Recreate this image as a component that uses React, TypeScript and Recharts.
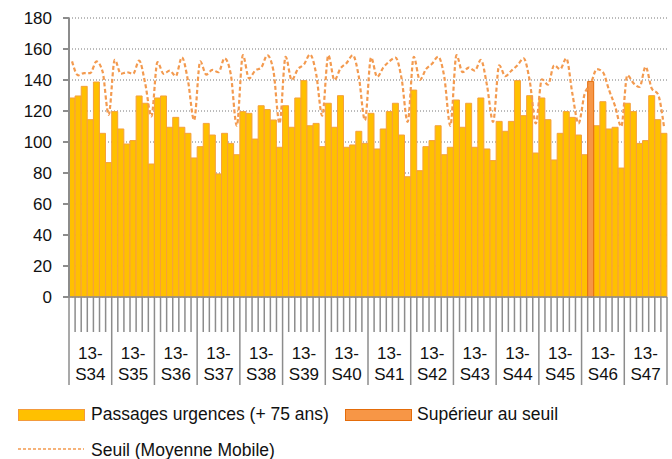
import React from 'react';
import { ComposedChart, Bar, Line, XAxis, YAxis, CartesianGrid, Legend } from 'recharts';

const weeks = ['13-S34', '13-S35', '13-S36', '13-S37', '13-S38', '13-S39', '13-S40', '13-S41', '13-S42', '13-S43', '13-S44', '13-S45', '13-S46', '13-S47'];

const passages = [
  128.4, 129.7, 135.9, 114.4, 138.7, 105.6, 86.7,
  119.6, 108.4, 98.7, 100.9, 129.7, 125, 85.8,
  128.4, 129.7, 109.5, 115.9, 109.5, 105.6, 89.7,
  97, 112, 104.5, 79.4, 105.6, 99.1, 91.8,
  119.6, 118.5, 101.9, 123.4, 120.9, 114.2, 96.6,
  123.4, 109.5, 128.4, 139.6, 110.5, 112, 97,
  125, 109.5, 129.9, 96.6, 98.1, 106.9, 99.1,
  118.5, 95.5, 108.4, 119.6, 125, 104.5, 77.6,
  133.5, 81.5, 97, 100.9, 110.5, 91.8, 96.6,
  127.1, 109.5, 125, 96.6, 128.4, 95.5, 88,
  113.3, 106.9, 113.3, 139.6, 117, 129.9, 92.9,
  128.4, 114.4, 88.4, 105.6, 119.6, 115.9, 104.5,
  91.8, 139.1, 110.5, 126, 108.4, 109.5, 83.2,
  125, 119.6, 99.1, 100.9, 129.9, 114.4, 105.6,
];

const seuil = [
  152, 143, 144.5, 144.5, 152, 145.5, 117.5,
  153, 144, 145, 144, 152.5, 137.5, 116.5,
  151.5, 144, 146, 142.5, 154.6, 139.5, 114,
  152, 143.5, 146.5, 145, 154, 144, 110.5,
  156, 141, 146, 148, 156, 146, 112,
  155, 140, 147, 150, 156.5, 144, 117,
  156, 140, 147.5, 151, 156, 142, 114,
  154.5, 142, 148, 152, 154.5, 141, 113,
  155, 140, 147, 150.5, 155, 142, 110.5,
  156, 145, 148, 146, 153, 136.5, 113,
  149.5, 142.5, 146, 149.5, 154, 139.5, 112,
  140.5, 137, 149.5, 147, 154, 131, 112,
  131, 137.5, 147, 145, 133.5, 123, 110,
  143, 138, 135.5, 148.5, 134.5, 131, 110,
];

const yTicks = [0, 20, 40, 60, 80, 100, 120, 140, 160, 180];

const data = passages.map((v, i) => {
  const above = v > seuil[i];
  return {
    day: `${weeks[Math.floor(i / 7)]}-${(i % 7) + 1}`,
    passages: above ? null : v,
    superieur: above ? v : null,
    seuil: seuil[i],
  };
});

const W = 672;
const H = 459;
const PLOT_LEFT = 69;
const PLOT_RIGHT = 667;
const N = data.length;
const BAND = (PLOT_RIGHT - PLOT_LEFT) / N;
const FONT = '"Liberation Sans", Arial, sans-serif';
const AXIS_GRAY = '#8c8c8c';

const DayTick = (props: any) => {
  const { x, y, payload } = props;
  const idx = payload.index;
  const left = x - BAND / 2;
  const isWeekStart = idx % 7 === 0;
  const week = weeks[Math.floor(idx / 7)];
  const parts = week ? [week.slice(0, 3), week.slice(3)] : ['', ''];
  return (
    <g>
      <line x1={left} x2={left} y1={y} y2={y + (isWeekStart ? 88 : 35)} stroke={AXIS_GRAY} strokeWidth={1.5} />
      {idx === N - 1 && (
        <line x1={x + BAND / 2} x2={x + BAND / 2} y1={y} y2={y + 88} stroke={AXIS_GRAY} strokeWidth={1.5} />
      )}
      {idx % 7 === 3 && (
        <text x={x} y={y} textAnchor="middle" fontFamily={FONT} fontSize={17} fill="#111">
          <tspan x={x} dy={62}>{parts[0]}</tspan>
          <tspan x={x} dy={21}>{parts[1]}</tspan>
        </text>
      )}
    </g>
  );
};

const LegendContent = () => (
  <div style={{ position: 'relative', width: W, height: 65, fontFamily: FONT, fontSize: 17.5, color: '#111' }}>
    <div style={{ position: 'absolute', left: 18, top: 15, width: 65, height: 10, background: '#FFC000', border: '1px solid #F39A3C' }} />
    <div style={{ position: 'absolute', left: 91, top: 9, whiteSpace: 'nowrap', lineHeight: '22px' }}>Passages urgences (+ 75 ans)</div>
    <div style={{ position: 'absolute', left: 345, top: 15, width: 65, height: 10, background: '#F79646', border: '1px solid #E46C0A' }} />
    <div style={{ position: 'absolute', left: 417, top: 9, whiteSpace: 'nowrap', lineHeight: '22px' }}>Supérieur au seuil</div>
    <svg style={{ position: 'absolute', left: 18, top: 53 }} width={66} height={4}>
      <line x1={0} x2={66} y1={2} y2={2} stroke="#F39A4F" strokeWidth={1.5} strokeDasharray="3 2" />
    </svg>
    <div style={{ position: 'absolute', left: 91, top: 45, whiteSpace: 'nowrap', lineHeight: '22px' }}>Seuil (Moyenne Mobile)</div>
  </div>
);

export default function App() {
  return (
    <div style={{ position: 'absolute', left: 0, top: 0, width: W, height: H, background: '#fff' }}>
      <ComposedChart
        width={W}
        height={H}
        data={data}
        margin={{ top: 18, right: W - PLOT_RIGHT, bottom: 72, left: 0 }}
        barCategoryGap={0}
        barGap={0}
      >
        <CartesianGrid vertical={false} stroke="#777" strokeDasharray="1 2" />
        <XAxis
          dataKey="day"
          interval={0}
          tickLine={false}
          tickSize={0}
          tickMargin={0}
          height={90}
          axisLine={{ stroke: AXIS_GRAY, strokeWidth: 1.5 }}
          tick={(p: any) => <DayTick {...p} />}
        />
        <YAxis
          domain={[0, 180]}
          ticks={yTicks}
          interval={0}
          width={PLOT_LEFT}
          tickSize={6}
          tickMargin={11}
          axisLine={{ stroke: AXIS_GRAY, strokeWidth: 2 }}
          tickLine={{ stroke: AXIS_GRAY, strokeWidth: 2 }}
          tick={{ fill: '#111', fontSize: 17, fontFamily: FONT }}
        />
        <Bar dataKey="passages" name="Passages urgences (+ 75 ans)" stackId="a" fill="#FFC000" stroke="#F5A03C" strokeWidth={1} isAnimationActive={false} />
        <Bar dataKey="superieur" name="Supérieur au seuil" stackId="a" fill="#F79646" stroke="#E46C0A" strokeWidth={1} isAnimationActive={false} />
        <Line dataKey="seuil" name="Seuil (Moyenne Mobile)" type="monotone" stroke="#F39A4F" strokeWidth={2.2} strokeDasharray="4 2.5" dot={false} activeDot={false} isAnimationActive={false} />
        <Legend verticalAlign="middle" align="center" wrapperStyle={{ left: 0, top: 394, width: W, height: 65 }} content={() => <LegendContent />} />
      </ComposedChart>
    </div>
  );
}
